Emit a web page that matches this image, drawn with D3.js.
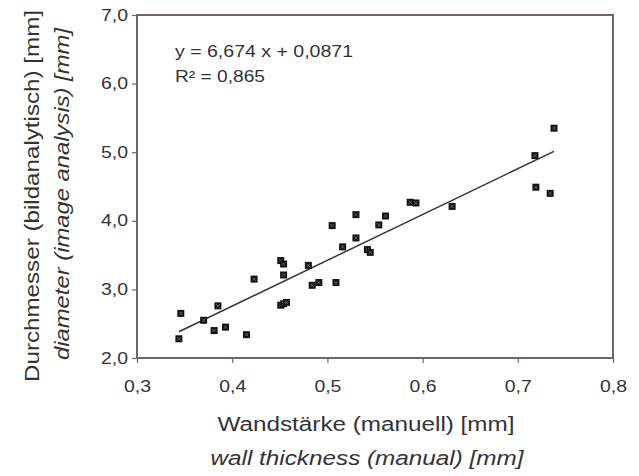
<!DOCTYPE html>
<html>
<head>
<meta charset="utf-8">
<script src="https://cdn.jsdelivr.net/npm/d3@7"></script>
<style>
  body { margin: 0; background: #fff; }
  svg { display: block; font-family: "Liberation Sans", Arial, sans-serif; }
</style>
</head>
<body>
<div id="chart"></div>
<script>
// Wandstärke (manuell) [mm]
var wall = [0.344, 0.346, 0.370, 0.381, 0.385, 0.393, 0.415, 0.423, 0.451, 0.454,
            0.454, 0.451, 0.454, 0.457, 0.480, 0.484, 0.491, 0.509, 0.505, 0.516,
            0.530, 0.530, 0.542, 0.545, 0.554, 0.561, 0.587, 0.593, 0.631, 0.718,
            0.719, 0.734, 0.738];
// Durchmesser (bildanalytisch) [mm]
var diam = [2.28, 2.65, 2.55, 2.40, 2.76, 2.45, 2.34, 3.15, 3.42, 3.37,
            3.21, 2.77, 2.79, 2.81, 3.35, 3.06, 3.10, 3.10, 3.93, 3.62,
            4.09, 3.75, 3.58, 3.54, 3.94, 4.07, 4.27, 4.26, 4.21, 4.95,
            4.49, 4.40, 5.35];
var xTicks = [0.3, 0.4, 0.5, 0.6, 0.7, 0.8];
var yTicks = [2, 3, 4, 5, 6, 7];
var slope = 6.674, icpt = 0.0871, r2 = "0,865";

var W = 639, H = 476;
var m = {left: 137, top: 15, right: 26, bottom: 118};
var pw = W - m.left - m.right, ph = H - m.top - m.bottom;
var fmt = d3.format(".1f");
var comma = function (v) { return fmt(v).replace(".", ","); };

var svg = d3.select('#chart').append('svg')
    .attr('width', W)
    .attr('height', H);
var g = svg.append('g').attr('transform', 'translate(' + m.left + ',' + m.top + ')');

var x = d3.scaleLinear().domain([0.3, 0.8]).range([0, pw]);
var y = d3.scaleLinear().domain([2, 7]).range([ph, 0]);

var frameCol = '#706666', textCol = '#333';

// axes
var xAx = g.append('g').attr('transform', 'translate(0,' + ph + ')')
    .call(d3.axisBottom(x).tickValues(xTicks).tickSize(5).tickFormat(comma));
var yAx = g.append('g')
    .call(d3.axisLeft(y).tickValues(yTicks).tickSize(5).tickFormat(comma));
[xAx, yAx].forEach(function (a) {
    a.select('.domain').remove();
    a.selectAll('.tick line').attr('stroke', frameCol).attr('stroke-width', 1.2);
    a.selectAll('.tick text').attr('fill', textCol).style('font-size', '16px')
        .attr('textLength', 27).attr('lengthAdjust', 'spacingAndGlyphs');
});
xAx.selectAll('.tick text').attr('y', 23);
yAx.selectAll('.tick text').attr('x', -9);

// frame
g.append('rect')
    .attr('width', pw).attr('height', ph)
    .attr('fill', 'none')
    .attr('stroke', frameCol)
    .attr('stroke-width', 2);

// trend line
var ext = d3.extent(wall);
g.append('line')
    .attr('x1', x(ext[0])).attr('y1', y(slope * ext[0] + icpt))
    .attr('x2', x(ext[1])).attr('y2', y(slope * ext[1] + icpt))
    .attr('stroke', '#3a3434')
    .attr('stroke-width', 1.5);

// points
var pts = g.selectAll('.pt').data(wall).enter().append('g')
    .attr('class', 'pt')
    .attr('transform', function (d, i) { return 'translate(' + x(d) + ',' + y(diam[i]) + ')'; });
pts.append('rect')
    .attr('x', -3.5).attr('y', -3.5).attr('width', 7).attr('height', 7)
    .attr('fill', '#111');
pts.append('path')
    .attr('d', 'M-1.7,-1.7L1.7,1.7M-1.7,1.7L1.7,-1.7')
    .attr('stroke', '#777')
    .attr('stroke-width', 0.8);

// equation
var eq = g.append('text')
    .attr('x', 38).attr('y', 42)
    .attr('fill', textCol)
    .style('font-size', '16px');
eq.append('tspan')
    .attr('textLength', 178).attr('lengthAdjust', 'spacingAndGlyphs')
    .text('y = ' + String(slope).replace('.', ',') + ' x + ' + String(icpt).replace('.', ','));
eq.append('tspan').attr('x', 38).attr('dy', 25)
    .attr('textLength', 90).attr('lengthAdjust', 'spacingAndGlyphs')
    .text('R² = ' + r2);

// axis titles
function title(tx, ty, rot, txt, len, italic) {
    svg.append('text')
        .attr('transform', 'translate(' + tx + ',' + ty + ')' + (rot ? ' rotate(-90)' : ''))
        .attr('text-anchor', 'middle')
        .attr('fill', textCol)
        .attr('textLength', len).attr('lengthAdjust', 'spacingAndGlyphs')
        .style('font-size', '20px')
        .style('font-style', italic ? 'italic' : 'normal')
        .text(txt);
}
title(366, 431, false, 'Wandstärke (manuell) [mm]', 297);
title(367, 465, false, 'wall thickness (manual) [mm]', 313, true);
title(39, 196, true, 'Durchmesser (bildanalytisch) [mm]', 372);
title(69, 194, true, 'diameter (image analysis) [mm]', 332, true);
</script>
</body>
</html>
